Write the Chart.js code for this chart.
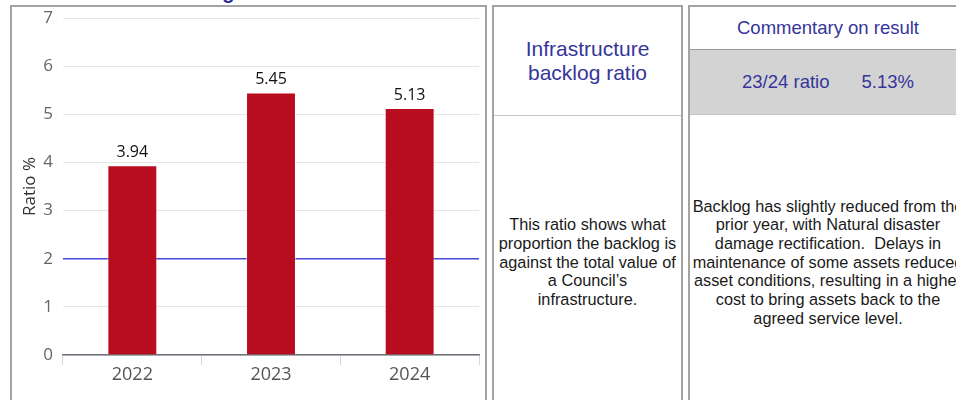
<!DOCTYPE html>
<html>
<head>
<meta charset="utf-8">
<script src="https://cdn.jsdelivr.net/npm/chart.js@4/dist/chart.umd.min.js"></script>
<style>
  html, body { margin: 0; padding: 0; background: #fff; }
  body { width: 956px; height: 400px; overflow: hidden; position: relative; font-family: Arial, "Liberation Sans", sans-serif; }
  .cell { position: absolute; box-sizing: border-box; border: 2px solid #a3a3a3; background: #fff; }
  .chart-title { position: absolute; left: 21px; top: -18px; font: bold 20px/20px Arial, "Liberation Sans", sans-serif; color: #2b2e9c; white-space: nowrap; }
  #chart-cell { left: 10px; top: 5px; width: 477px; height: 420px; }
  #chart-cell canvas { position: absolute; left: 0; top: 0; }
  #ratio-cell { left: 492px; top: 5px; width: 191px; height: 420px; }
  #comment-cell { left: 688px; top: 5px; width: 280px; height: 420px; }
  .box { position: absolute; left: 0; right: 0; display: flex; align-items: center; justify-content: center; text-align: center; white-space: nowrap; }
  .heading { color: #35359a; }
  #ratio-name { top: 0; height: 108px; font-size: 21px; line-height: 24px; border-bottom: 1px solid #c4c4c4; }
  #ratio-about { top: 112px; height: 286px; font-size: 16.3px; line-height: 18.7px; color: #1a1a1a; }
  #comment-head { top: 0; height: 42px; font-size: 18.5px; }
  #comment-value { top: 42px; height: 66px; font-size: 18.5px; background: #d3d3d3; border-top: 1px solid #9a9a9a; border-bottom: 1px solid #c4c4c4; box-sizing: border-box; }
  #comment-value span + span { margin-left: 32px; }
  #comment-text { top: 112px; height: 286px; font-size: 16.3px; line-height: 18.7px; color: #1a1a1a; }
</style>
</head>
<body>
<div class="chart-title">Infrastructure Backlog Ratio</div>

<div class="cell" id="chart-cell">
  <canvas id="backlog-chart" width="473" height="393"></canvas>
</div>

<div class="cell" id="ratio-cell">
  <div class="box heading" id="ratio-name">Infrastructure<br>backlog ratio</div>
  <div class="box" id="ratio-about">This ratio shows what<br>proportion the backlog is<br>against the total value of<br>a Council’s<br>infrastructure.</div>
</div>

<div class="cell" id="comment-cell">
  <div class="box heading" id="comment-head">Commentary on result</div>
  <div class="box heading" id="comment-value"><span>23/24 ratio</span><span>5.13%</span></div>
  <div class="box" id="comment-text">Backlog has slightly reduced from the<br>prior year, with Natural disaster<br>damage rectification.&nbsp; Delays in<br>maintenance of some assets reduced<br>asset conditions, resulting in a higher<br>cost to bring assets back to the<br>agreed service level.</div>
</div>

<script>
(function () {
  'use strict';

  const years = ['2022', '2023', '2024'];
  const ratios = [3.94, 5.45, 5.13];
  const benchmark = 2;
  const ratioTicks = [0, 1, 2, 3, 4, 5, 6, 7];

  const BAR_RED = '#b80c1f';

  Chart.defaults.font.family = '"Open Sans", "Noto Sans", sans-serif';

  // Benchmark line sits behind the bars
  const benchmarkLine = {
    id: 'benchmarkLine',
    beforeDatasetsDraw(chart) {
      const { ctx, chartArea, scales } = chart;
      const y = scales.y.getPixelForValue(benchmark);
      ctx.save();
      ctx.strokeStyle = '#4848dc';
      ctx.lineWidth = 1.5;
      ctx.beginPath();
      ctx.moveTo(chartArea.left, y);
      ctx.lineTo(chartArea.right, y);
      ctx.stroke();
      ctx.restore();
    }
  };

  // Value printed above each bar
  const barValues = {
    id: 'barValues',
    afterDatasetsDraw(chart) {
      const { ctx } = chart;
      const meta = chart.getDatasetMeta(0);
      ctx.save();
      ctx.font = '16px "Open Sans", "Noto Sans", sans-serif';
      ctx.fillStyle = '#111';
      ctx.textAlign = 'center';
      ctx.textBaseline = 'bottom';
      meta.data.forEach(function (bar, i) {
        ctx.fillText(ratios[i].toFixed(2), bar.x, bar.y - 5);
      });
      ctx.restore();
    }
  };

  new Chart(document.getElementById('backlog-chart'), {
    type: 'bar',
    data: {
      labels: years,
      datasets: [{
        data: ratios,
        backgroundColor: BAR_RED,
        borderColor: 'rgba(255,255,255,0.45)',
        borderWidth: 1,
        categoryPercentage: 1,
        barPercentage: 0.36
      }]
    },
    options: {
      responsive: false,
      animation: false,
      layout: { padding: { top: 11, right: 6, left: 0, bottom: 0 } },
      plugins: {
        legend: { display: false },
        tooltip: { enabled: false }
      },
      scales: {
        x: {
          afterFit(scale) { scale.height = 45; },
          border: { display: true, color: '#6f7079', width: 1.5 },
          grid: {
            drawOnChartArea: false,
            drawTicks: true,
            tickLength: 10,
            color: '#ccd6eb',
            tickColor: '#ccd6eb'
          },
          ticks: { color: '#555', padding: -1, font: { size: 18 } }
        },
        y: {
          min: 0,
          max: 7,
          afterFit(scale) {
            // fixed axis width; top/bottom spacing comes from layout padding only
            scale.width = 51;
            scale.paddingTop = 0;
            scale.paddingBottom = 0;
          },
          afterBuildTicks(scale) {
            scale.ticks = ratioTicks.map(function (v) { return { value: v }; });
          },
          border: { display: false },
          grid: { color: '#e6e6e6', drawTicks: false },
          ticks: { color: '#666', padding: 10, font: { size: 17 } },
          title: {
            display: true,
            text: 'Ratio %',
            color: '#333',
            font: { size: 17 },
            padding: { top: 8, bottom: 0 }
          }
        }
      }
    },
    plugins: [benchmarkLine, barValues]
  });
})();
</script>
</body>
</html>
